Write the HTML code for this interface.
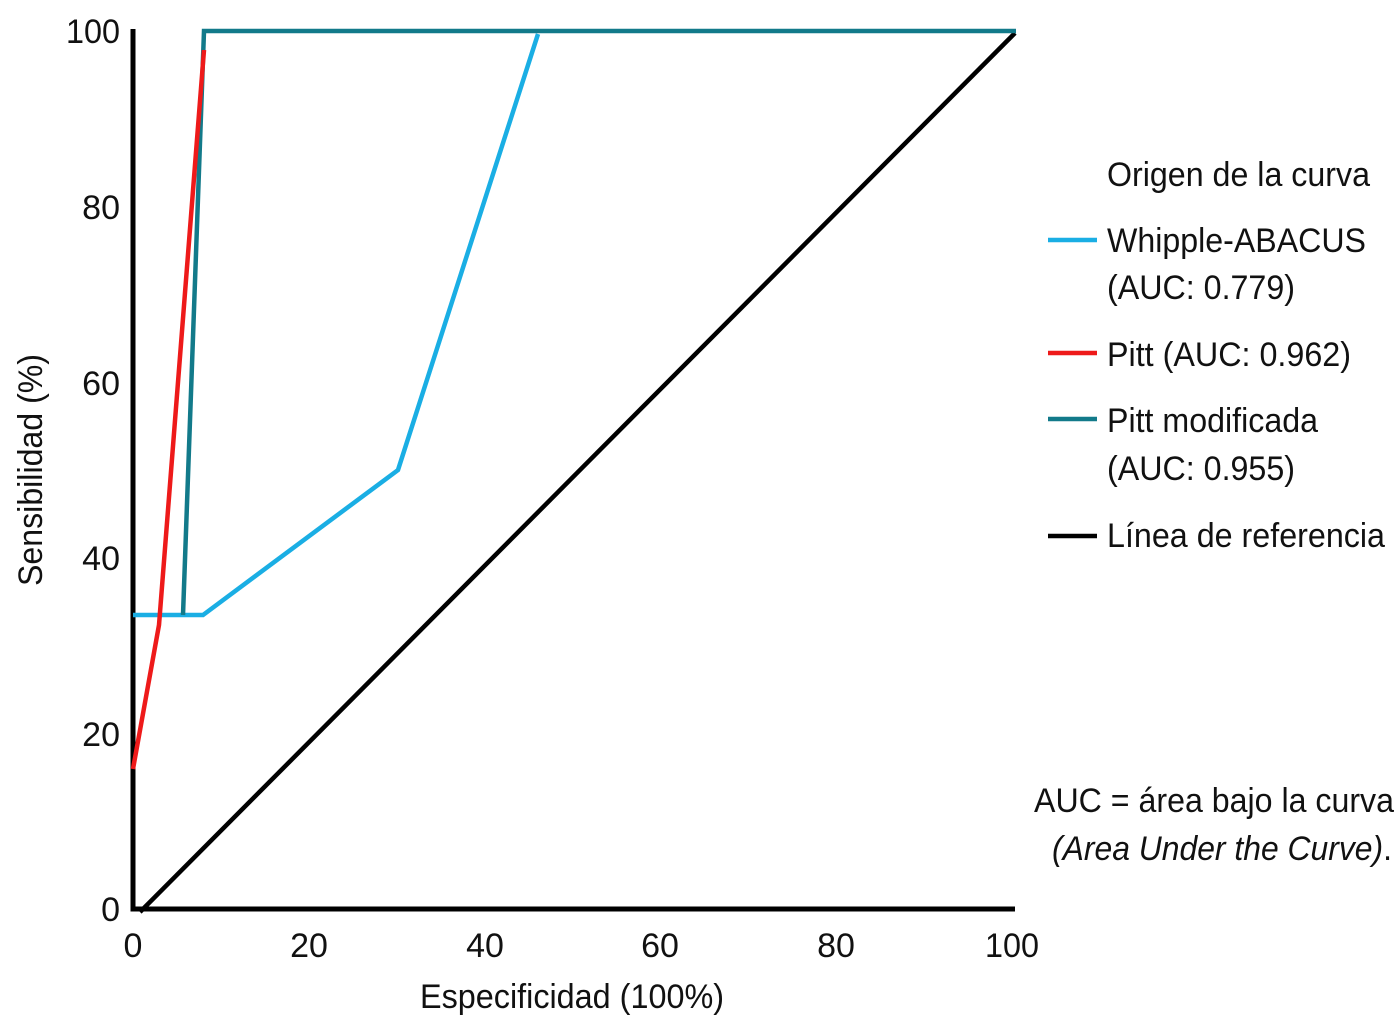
<!DOCTYPE html>
<html><head><style>body{margin:0;background:#fff}</style></head><body>
<svg width="1396" height="1024" viewBox="0 0 1396 1024" xmlns="http://www.w3.org/2000/svg" font-family="Liberation Sans, sans-serif" font-size="34">
<g fill="none" stroke-width="4.5" stroke-linejoin="miter">
<polyline points="133,29 133,909 1015,909" stroke="#000" stroke-width="5"/>
<line x1="140" y1="912" x2="1015" y2="33" stroke="#000"/>
<polyline points="133,615 203,615 398,470 538,34" stroke="#1aaee4"/>
<polyline points="183,615 204,31 1016,31" stroke="#127a8a"/>
<polyline points="133,769 159,625 204,50" stroke="#ee1a1a"/>
<line x1="1048" y1="240" x2="1097" y2="240" stroke="#1aaee4"/>
<line x1="1048" y1="353" x2="1097" y2="353" stroke="#ee1a1a"/>
<line x1="1048" y1="419" x2="1097" y2="419" stroke="#127a8a"/>
<line x1="1048" y1="536" x2="1097" y2="536" stroke="#000"/>
</g>
<g text-anchor="end" fill="#111">
<text x="120" y="43" textLength="54" lengthAdjust="spacingAndGlyphs">100</text>
<text x="120" y="219">80</text>
<text x="120" y="395">60</text>
<text x="120" y="570">40</text>
<text x="120" y="746">20</text>
<text x="120" y="921">0</text>
</g>
<g text-anchor="middle" fill="#111">
<text x="133" y="957">0</text>
<text x="309" y="957">20</text>
<text x="485" y="957">40</text>
<text x="660" y="957">60</text>
<text x="836" y="957">80</text>
<text x="1012" y="957" textLength="54" lengthAdjust="spacingAndGlyphs">100</text>
<text x="572" y="1008" textLength="304" lengthAdjust="spacingAndGlyphs">Especificidad (100%)</text>
<text transform="translate(42,470) rotate(-90)" textLength="232" lengthAdjust="spacingAndGlyphs">Sensibilidad (%)</text>
</g>
<g fill="#111">
<text x="1107" y="186" textLength="263" lengthAdjust="spacingAndGlyphs">Origen de la curva</text>
<text x="1107" y="252" textLength="259" lengthAdjust="spacingAndGlyphs">Whipple-ABACUS</text>
<text x="1107" y="299" textLength="188" lengthAdjust="spacingAndGlyphs">(AUC: 0.779)</text>
<text x="1107" y="366" textLength="244" lengthAdjust="spacingAndGlyphs">Pitt (AUC: 0.962)</text>
<text x="1107" y="432" textLength="211" lengthAdjust="spacingAndGlyphs">Pitt modificada</text>
<text x="1107" y="480" textLength="188" lengthAdjust="spacingAndGlyphs">(AUC: 0.955)</text>
<text x="1107" y="547" textLength="278" lengthAdjust="spacingAndGlyphs">Línea de referencia</text>
<text x="1034" y="812" textLength="360" lengthAdjust="spacingAndGlyphs">AUC = área bajo la curva</text>
<text x="1052" y="860" textLength="340" lengthAdjust="spacingAndGlyphs"><tspan font-style="italic">(Area Under the Curve)</tspan>.</text>
</g>
</svg>
</body></html>
